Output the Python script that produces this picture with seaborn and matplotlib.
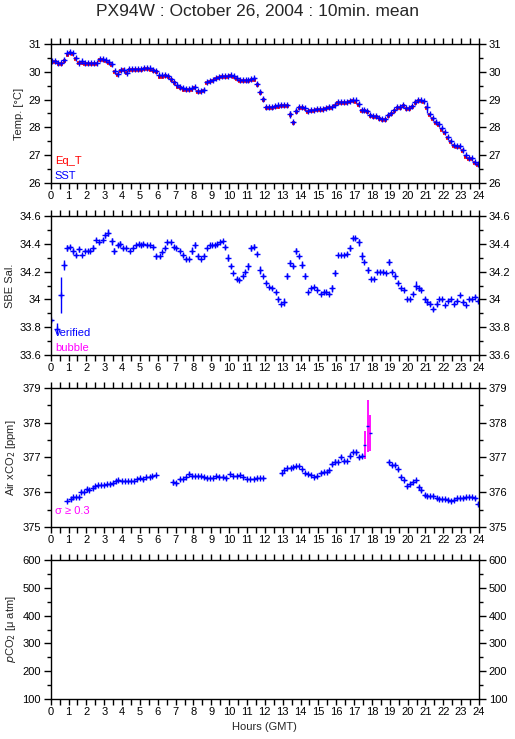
import numpy as np
import matplotlib
matplotlib.use("Agg")
import matplotlib.pyplot as plt
import seaborn as sns

# 10-min means, one row per hour (SST and equilibrator temperature)
sst = [
    30.40, 30.38, 30.33, 30.30, 30.42, 30.66,
    30.71, 30.66, 30.50, 30.33, 30.37, 30.33,
    30.33, 30.33, 30.33, 30.33, 30.45, 30.45,
    30.42, 30.36, 30.27, 30.03, 29.93, 30.06,
    30.08, 29.97, 30.10, 30.10, 30.09, 30.09,
    30.09, 30.12, 30.12, 30.12, 30.08, 30.02,
    29.87, 29.87, 29.87, 29.86, 29.75, 29.64,
    29.51, 29.46, 29.40, 29.38, 29.38, 29.40,
    29.45, 29.32, 29.30, 29.36, 29.63, 29.67,
    29.71, 29.77, 29.80, 29.84, 29.86, 29.86,
    29.87, 29.84, 29.77, 29.71, 29.71, 29.70,
    29.72, 29.74, 29.76, 29.57, 29.28, 29.02,
    28.73, 28.73, 28.74, 28.78, 28.79, 28.81,
    28.81, 28.81, 28.47, 28.19, 28.60, 28.72,
    28.72, 28.71, 28.60, 28.62, 28.64, 28.66,
    28.67, 28.67, 28.70, 28.75, 28.75, 28.82,
    28.93, 28.93, 28.93, 28.93, 28.96, 29.00,
    28.97, 28.84, 28.62, 28.62, 28.60, 28.44,
    28.40, 28.40, 28.34, 28.31, 28.31, 28.45,
    28.52, 28.64, 28.74, 28.74, 28.80, 28.70,
    28.70, 28.78, 28.93, 28.98, 28.98, 28.96,
    28.73, 28.48, 28.33, 28.20, 28.12, 27.96,
    27.84, 27.65, 27.50, 27.38, 27.32, 27.32,
    27.20, 26.99, 26.89, 26.89, 26.75, 26.67,
]
sst_sd = [
    0.03, 0.03, 0.03, 0.03, 0.06, 0.05,
    0.05, 0.03, 0.04, 0.03, 0.04, 0.03,
    0.03, 0.03, 0.03, 0.03, 0.04, 0.03,
    0.03, 0.04, 0.05, 0.05, 0.06, 0.04,
    0.06, 0.05, 0.03, 0.03, 0.03, 0.03,
    0.03, 0.03, 0.03, 0.03, 0.04, 0.04,
    0.04, 0.03, 0.04, 0.03, 0.04, 0.04,
    0.04, 0.03, 0.04, 0.03, 0.03, 0.03,
    0.04, 0.04, 0.04, 0.06, 0.05, 0.04,
    0.03, 0.03, 0.03, 0.03, 0.03, 0.03,
    0.03, 0.03, 0.03, 0.03, 0.03, 0.03,
    0.03, 0.04, 0.04, 0.06, 0.06, 0.06,
    0.03, 0.03, 0.03, 0.03, 0.03, 0.03,
    0.03, 0.03, 0.12, 0.05, 0.10, 0.03,
    0.03, 0.03, 0.03, 0.03, 0.03, 0.03,
    0.03, 0.03, 0.03, 0.04, 0.03, 0.04,
    0.03, 0.03, 0.03, 0.03, 0.03, 0.03,
    0.03, 0.06, 0.04, 0.03, 0.04, 0.03,
    0.03, 0.06, 0.03, 0.03, 0.03, 0.04,
    0.04, 0.03, 0.03, 0.04, 0.03, 0.03,
    0.03, 0.04, 0.06, 0.03, 0.03, 0.03,
    0.20, 0.04, 0.05, 0.05, 0.04, 0.04,
    0.04, 0.05, 0.05, 0.03, 0.03, 0.03,
    0.05, 0.04, 0.03, 0.03, 0.04, 0.03,
]
eq_t = [
    30.36, 30.34, 30.29, 30.27, 30.38, 30.62,
    30.68, 30.63, 30.46, 30.30, 30.33, 30.29,
    30.29, 30.29, 30.29, 30.29, 30.41, 30.41,
    30.39, 30.33, 30.24, 30.00, 29.90, 30.02,
    30.05, 29.94, 30.06, 30.06, 30.05, 30.05,
    30.05, 30.09, 30.09, 30.08, 30.04, 29.98,
    29.82, 29.82, 29.83, 29.82, 29.71, 29.60,
    29.47, 29.42, 29.36, 29.34, 29.34, 29.36,
    29.41, 29.28, 29.26, 29.32, 29.59, 29.63,
    29.67, 29.73, 29.77, 29.81, 29.82, 29.82,
    29.84, 29.80, 29.73, 29.67, 29.67, 29.66,
    29.68, 29.70, 29.72, 29.53, 29.24, 28.98,
    28.69, 28.69, 28.70, 28.74, 28.75, 28.77,
    28.77, 28.77, 28.44, 28.16, 28.56, 28.68,
    28.68, 28.67, 28.56, 28.58, 28.60, 28.62,
    28.63, 28.63, 28.66, 28.71, 28.71, 28.78,
    28.89, 28.89, 28.89, 28.89, 28.92, 28.96,
    28.93, 28.80, 28.58, 28.58, 28.56, 28.40,
    28.36, 28.36, 28.30, 28.27, 28.27, 28.41,
    28.48, 28.60, 28.70, 28.70, 28.76, 28.66,
    28.66, 28.74, 28.89, 28.94, 28.94, 28.92,
    28.69, 28.44, 28.29, 28.16, 28.08, 27.92,
    27.80, 27.61, 27.46, 27.34, 27.28, 27.28,
    27.16, 26.95, 26.85, 26.85, 26.71, 26.63,
]
temp_hours = (np.arange(len(sst)) + 0.5) / 6.0

# SBE salinity (verified)
sal_t = [0.04, 0.38, 0.56, 0.75, 0.94, 1.09, 1.26, 1.41, 1.56, 1.73,
         1.90, 2.07, 2.22, 2.39, 2.54, 2.73, 2.91, 3.06, 3.23, 3.42,
         3.57, 3.76, 3.89, 4.04, 4.23, 4.42, 4.60, 4.76, 4.94, 5.08,
         5.20, 5.37, 5.55, 5.75, 5.92, 6.10, 6.26, 6.39, 6.54, 6.73,
         6.90, 7.05, 7.24, 7.39, 7.58, 7.76, 7.91, 8.08, 8.23, 8.42,
         8.59, 8.74, 8.90, 9.05, 9.20, 9.34, 9.49, 9.64, 9.77, 9.92,
         10.09, 10.24, 10.43, 10.58, 10.75, 10.90, 11.07, 11.22, 11.41, 11.56,
         11.73, 11.92, 12.09, 12.26, 12.41, 12.60, 12.75, 12.92, 13.09, 13.26,
         13.41, 13.58, 13.74, 13.91, 14.10, 14.25, 14.42, 14.59, 14.76, 14.95,
         15.14, 15.29, 15.44, 15.61, 15.76, 15.93, 16.10, 16.27, 16.44, 16.60,
         16.77, 16.92, 17.07, 17.26, 17.45, 17.58, 17.77, 17.95, 18.10, 18.27,
         18.46, 18.62, 18.80, 18.95, 19.12, 19.29, 19.46, 19.61, 19.80, 19.98,
         20.15, 20.30, 20.45, 20.62, 20.77, 20.96, 21.09, 21.26, 21.43, 21.62,
         21.77, 21.94, 22.10, 22.28, 22.43, 22.60, 22.75, 22.94, 23.12, 23.27,
         23.46, 23.60, 23.78, 23.97]
sal = [33.85, 33.79, 34.03, 34.25, 34.37, 34.38, 34.35, 34.32, 34.36, 34.32,
       34.35, 34.35, 34.35, 34.37, 34.43, 34.41, 34.43, 34.46, 34.48, 34.42,
       34.35, 34.39, 34.40, 34.37, 34.37, 34.35, 34.37, 34.39, 34.40, 34.39,
       34.40, 34.39, 34.39, 34.38, 34.31, 34.31, 34.34, 34.37, 34.41, 34.41,
       34.38, 34.37, 34.35, 34.32, 34.29, 34.29, 34.35, 34.39, 34.31, 34.29,
       34.31, 34.37, 34.39, 34.39, 34.39, 34.40, 34.41, 34.42, 34.38, 34.30,
       34.24, 34.19, 34.15, 34.14, 34.17, 34.20, 34.24, 34.37, 34.38, 34.33,
       34.21, 34.17, 34.12, 34.09, 34.08, 34.05, 34.00, 33.97, 33.98, 34.17,
       34.26, 34.24, 34.35, 34.31, 34.25, 34.17, 34.05, 34.08, 34.09, 34.07,
       34.04, 34.05, 34.05, 34.04, 34.08, 34.19, 34.32, 34.32, 34.32, 34.33,
       34.37, 34.44, 34.44, 34.41, 34.31, 34.27, 34.21, 34.15, 34.15, 34.20,
       34.20, 34.20, 34.19, 34.27, 34.20, 34.17, 34.12, 34.08, 34.07, 34.00,
       34.00, 34.04, 34.10, 34.08, 34.07, 34.00, 33.98, 33.97, 33.93, 33.97,
       34.00, 34.00, 33.96, 33.99, 34.00, 33.97, 33.99, 34.03, 33.98, 33.96,
       34.00, 34.00, 34.02, 33.99]
sal_sd = [0.01, 0.04, 0.13, 0.035, 0.02, 0.01, 0.02, 0.015, 0.02, 0.01,
          0.01, 0.01, 0.01, 0.02, 0.01, 0.01, 0.015, 0.02, 0.025, 0.025,
          0.02, 0.015, 0.02, 0.015, 0.01, 0.01, 0.01, 0.01, 0.01, 0.01,
          0.01, 0.01, 0.01, 0.01, 0.02, 0.01, 0.01, 0.015, 0.01, 0.01,
          0.01, 0.01, 0.01, 0.015, 0.015, 0.01, 0.025, 0.02, 0.02, 0.01,
          0.02, 0.01, 0.01, 0.01, 0.01, 0.01, 0.01, 0.01, 0.015, 0.025,
          0.015, 0.01, 0.01, 0.01, 0.01, 0.015, 0.025, 0.02, 0.02, 0.01,
          0.03, 0.01, 0.01, 0.01, 0.01, 0.01, 0.02, 0.01, 0.03, 0.02,
          0.02, 0.015, 0.02, 0.01, 0.025, 0.02, 0.01, 0.01, 0.01, 0.01,
          0.01, 0.01, 0.01, 0.01, 0.025, 0.02, 0.01, 0.01, 0.01, 0.01,
          0.025, 0.01, 0.01, 0.025, 0.03, 0.01, 0.02, 0.01, 0.01, 0.01,
          0.01, 0.01, 0.01, 0.02, 0.01, 0.02, 0.015, 0.01, 0.01, 0.01,
          0.01, 0.01, 0.03, 0.02, 0.01, 0.015, 0.02, 0.02, 0.015, 0.02,
          0.01, 0.01, 0.01, 0.01, 0.01, 0.01, 0.01, 0.01, 0.015, 0.01,
          0.01, 0.01, 0.01, 0.01]

# Air xCO2 (verified, sigma < 0.3)
co2_t = [0.94, 1.13, 1.26, 1.43, 1.60, 1.71, 1.88, 2.01, 2.16, 2.35,
         2.50, 2.67, 2.84, 3.01, 3.18, 3.35, 3.50, 3.66, 3.80, 3.97,
         4.14, 4.31, 4.48, 4.66, 4.83, 4.98, 5.17, 5.36, 5.55, 5.70,
         5.88, 6.86, 7.05, 7.24, 7.42, 7.58, 7.76, 7.93, 8.10, 8.26,
         8.42, 8.59, 8.74, 8.91, 9.08, 9.27, 9.45, 9.64, 9.80, 10.06,
         10.24, 10.43, 10.62, 10.80, 10.99, 11.18, 11.37, 11.56, 11.73, 11.90,
         12.94, 13.10, 13.26, 13.44, 13.59, 13.76, 13.91, 14.10, 14.25, 14.42,
         14.59, 14.76, 14.95, 15.12, 15.29, 15.46, 15.60, 15.76, 15.93, 16.10,
         16.26, 16.43, 16.60, 16.77, 16.92, 17.11, 17.26, 17.45,
         18.95, 19.12, 19.29, 19.46, 19.61, 19.80, 19.98, 20.15, 20.30, 20.45,
         20.62, 20.77, 20.96, 21.11, 21.28, 21.43, 21.62, 21.77, 21.94, 22.11,
         22.28, 22.43, 22.62, 22.75, 22.94, 23.12, 23.27, 23.46, 23.60, 23.78,
         23.97]
co2 = [375.76, 375.81, 375.85, 375.85, 375.85, 376.00, 376.00, 376.09, 376.07, 376.13,
       376.18, 376.21, 376.21, 376.21, 376.23, 376.23, 376.26, 376.33, 376.36, 376.31,
       376.31, 376.31, 376.31, 376.33, 376.38, 376.40, 376.37, 376.43, 376.44, 376.47,
       376.50, 376.28, 376.26, 376.37, 376.37, 376.45, 376.53, 376.48, 376.47, 376.47,
       376.47, 376.43, 376.40, 376.40, 376.40, 376.47, 376.45, 376.45, 376.40, 376.53,
       376.47, 376.48, 376.50, 376.44, 376.38, 376.38, 376.38, 376.40, 376.40, 376.42,
       376.54, 376.64, 376.69, 376.70, 376.72, 376.75, 376.75, 376.66, 376.54, 376.53,
       376.50, 376.44, 376.47, 376.55, 376.58, 376.57, 376.63, 376.81, 376.88, 376.88,
       377.01, 376.90, 376.90, 377.05, 377.15, 377.15, 377.02, 377.05,
       376.88, 376.79, 376.79, 376.67, 376.45, 376.36, 376.18, 376.24, 376.29, 376.34,
       376.14, 376.07, 375.92, 375.88, 375.88, 375.90, 375.83, 375.81, 375.80, 375.80,
       375.77, 375.75, 375.78, 375.82, 375.83, 375.82, 375.85, 375.87, 375.86, 375.83,
       375.67]
co2_sd = [0.03, 0.05, 0.05, 0.03, 0.05, 0.06, 0.03, 0.07, 0.03, 0.05,
          0.03, 0.03, 0.03, 0.03, 0.03, 0.05, 0.05, 0.04, 0.03, 0.03,
          0.03, 0.03, 0.03, 0.03, 0.04, 0.03, 0.04, 0.04, 0.03, 0.03,
          0.03, 0.06, 0.04, 0.04, 0.03, 0.03, 0.05, 0.04, 0.03, 0.03,
          0.03, 0.04, 0.04, 0.03, 0.03, 0.04, 0.04, 0.04, 0.06, 0.03,
          0.03, 0.03, 0.03, 0.04, 0.03, 0.03, 0.03, 0.03, 0.03, 0.03,
          0.04, 0.04, 0.03, 0.03, 0.03, 0.03, 0.03, 0.04, 0.03, 0.03,
          0.03, 0.03, 0.04, 0.05, 0.03, 0.03, 0.05, 0.05, 0.07, 0.05,
          0.05, 0.05, 0.03, 0.07, 0.05, 0.07, 0.06, 0.06,
          0.06, 0.05, 0.05, 0.06, 0.06, 0.04, 0.06, 0.04, 0.03, 0.04,
          0.07, 0.05, 0.05, 0.05, 0.04, 0.05, 0.04, 0.04, 0.04, 0.03,
          0.05, 0.03, 0.04, 0.04, 0.04, 0.04, 0.04, 0.04, 0.03, 0.04,
          0.05]

# Air xCO2 with sigma >= 0.3
co2_hi_t = [17.60, 17.77, 17.92]
co2_hi = [377.37, 377.91, 377.70]
co2_hi_sd = [0.40, 0.75, 0.52]

BLUE = "#0000ff"
RED = "#ff0000"
MAGENTA = "#ff00ff"
HALF = 1.0 / 12.0  # half of a 10-min bin, in hours


def crosses(ax, x, y, sd, color):
    # 10-min mean drawn as a "+" with its std as a vertical bar
    ax.errorbar(x, y, xerr=HALF, yerr=sd, fmt="+", color=color, ecolor=color,
                elinewidth=1.0, markersize=4.5, markeredgewidth=1.0)


sns.set_theme(style="ticks")
plt.rcParams["font.family"] = ["Liberation Sans", "DejaVu Sans"]
plt.rcParams["axes.linewidth"] = 1.0

fig = plt.figure(figsize=(5.15, 7.39), dpi=100)
fig.patch.set_facecolor("white")

L, W, H = 0.0984, 0.8317, 0.1881
bottoms = [0.7524, 0.5196, 0.2869, 0.0541]
axes = [fig.add_axes([L, b, W, H]) for b in bottoms]

ylims = [(26, 31), (33.6, 34.6), (375, 379), (100, 600)]
ymajor = [1, 0.2, 1, 100]
yminor = [0.5, 0.1, 0.5, 50]
ylabels = ["Temp. [°C]", "SBE Sal.", "Air xCO$_2$ [ppm]", "$p$CO$_2$ [μ atm]"]

for ax, lim, mj, mn, lab in zip(axes, ylims, ymajor, yminor, ylabels):
    ax.set_facecolor("white")
    ax.set_xlim(0, 24)
    ax.set_ylim(*lim)
    ax.set_xticks(range(0, 25))
    ax.set_xticks(np.arange(0, 24.5, 0.5), minor=True)
    ax.set_yticks(np.arange(lim[0], lim[1] + mj / 2, mj))
    ax.set_yticks(np.arange(lim[0], lim[1] + mn / 2, mn), minor=True)
    ax.tick_params(axis="both", which="both", direction="out", colors="black",
                   top=True, right=True, labelright=True, labelsize=8, pad=2)
    ax.tick_params(axis="x", which="both", length=4, width=1)
    ax.tick_params(axis="y", which="major", length=5, width=1)
    ax.tick_params(axis="y", which="minor", length=3, width=1)
    ax.yaxis.set_major_formatter(matplotlib.ticker.FuncFormatter(
        lambda v, p: f"{v:g}"))
    ax.set_ylabel(lab, fontsize=8, labelpad=3)
    for s in ax.spines.values():
        s.set_color("black")

# panel 1 : temperatures
ax = axes[0]
ax.errorbar(temp_hours, eq_t, xerr=HALF, fmt="none", ecolor=RED, elinewidth=2.6)
crosses(ax, temp_hours, sst, sst_sd, BLUE)
ax.text(0.01, 0.135, "Eq_T", color=RED, fontsize=8, transform=ax.transAxes)
ax.text(0.01, 0.03, "SST", color=BLUE, fontsize=8, transform=ax.transAxes)

# panel 2 : salinity
ax = axes[1]
crosses(ax, sal_t, sal, sal_sd, BLUE)
ax.text(0.01, 0.135, "verified", color=BLUE, fontsize=8, transform=ax.transAxes)
ax.text(0.01, 0.03, "bubble", color=MAGENTA, fontsize=8, transform=ax.transAxes)

# panel 3 : air xCO2
ax = axes[2]
crosses(ax, co2_t, co2, co2_sd, BLUE)
ax.errorbar(co2_hi_t, co2_hi, yerr=co2_hi_sd, fmt="none", ecolor=MAGENTA,
            elinewidth=1.3)
ax.errorbar(co2_hi_t, co2_hi, xerr=HALF, fmt="none", ecolor=BLUE, elinewidth=1.0)
ax.text(0.01, 0.09, "σ ≥ 0.3", color=MAGENTA, fontsize=8, transform=ax.transAxes)

axes[3].set_xlabel("Hours (GMT)", fontsize=8, labelpad=3)

fig.suptitle("PX94W : October 26, 2004 : 10min. mean", fontsize=12.5, y=0.995)

fig.savefig("out.png", dpi=100, facecolor="white")
